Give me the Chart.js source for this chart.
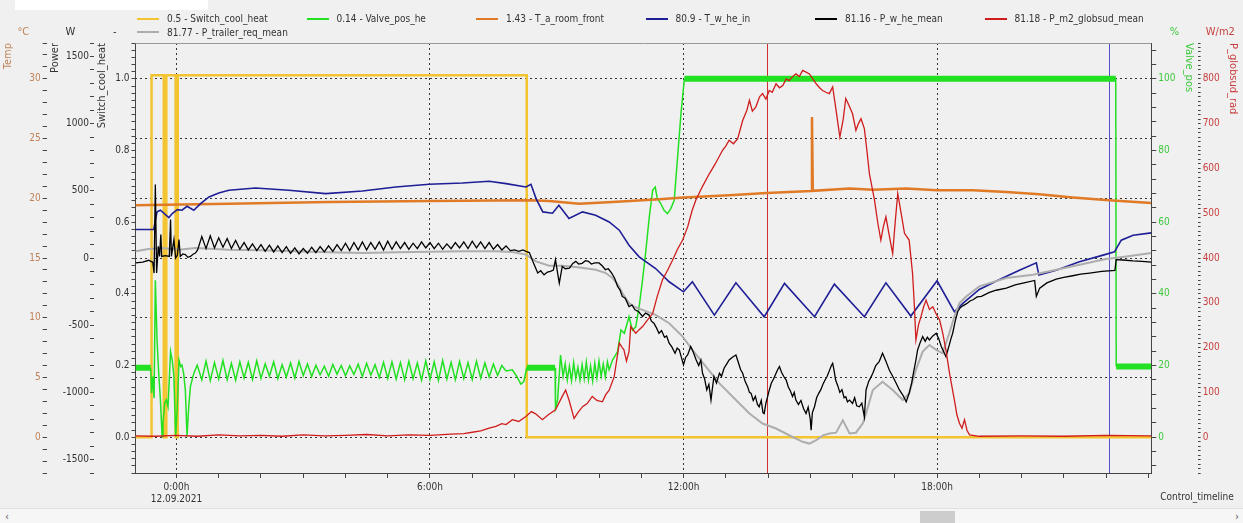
<!DOCTYPE html>
<html>
<head>
<meta charset="utf-8">
<script src="https://cdn.jsdelivr.net/npm/chart.js@4/dist/chart.umd.min.js"></script>
<style>
  body { margin: 0; background: #f0f0f0; font-family: 'Liberation Sans Narrow', 'DejaVu Sans Condensed', sans-serif; }
  #wrap { position: relative; width: 1243px; height: 523px; overflow: hidden; background: #f0f0f0; }
  #topbar { position: absolute; left: 15px; top: 0; width: 193px; height: 10px; background: #fff; }
  #legend { position: absolute; left: 137px; top: 12px; display: grid; grid-template-columns: repeat(6, 169.5px); font-size: 10px; color: #333; z-index: 2; }
  .item { display: flex; align-items: center; height: 13.5px; white-space: nowrap; }
  .swatch { width: 22px; height: 2px; margin-right: 8px; }
  #chartBox { position: absolute; left: 0; top: 0; }
  #scroll { position: absolute; left: 0; top: 508px; width: 1243px; height: 15px; background: #f6f6f6; border-top: 1px solid #e0e0e0; font-size: 11px; color: #555; }
  #thumb { position: absolute; left: 920px; top: 2px; width: 35px; height: 12px; background: #cdcdcd; }
</style>
</head>
<body>
<div id="wrap">
  <div id="topbar"></div>
  <div id="legend"></div>
  <div id="chartBox"><canvas id="trendChart" width="1243" height="508"></canvas></div>
  <div id="scroll"><span style="position:absolute;left:5px;top:1px">&lsaquo;</span><div id="thumb"></div><span style="position:absolute;left:1235px;top:1px">&rsaquo;</span></div>
</div>
<script>
// Legend labels of the recorded channels
var seriesLabels = ['0.5 - Switch_cool_heat', '0.14 - Valve_pos_he', '1.43 - T_a_room_front', '80.9 - T_w_he_in',
    '81.16 - P_w_he_mean', '81.18 - P_m2_globsud_mean', '81.77 - P_trailer_req_mean'];

// Time axis (hours from 12.09.2021 0:00)
var xTickHours = [0, 6, 12, 18];
var xTickText = [['0:00h', '12.09.2021'], '6:00h', '12:00h', '18:00h'];
var cursorHours = [13.97, 22.07];

// Each series: [hour, value]
var switchCoolHeat = [[-0.97, 0], [-0.59, 0], [-0.59, 1.01], [-0.30, 1.01], [-0.30, 0], [-0.24, 0], [-0.24, 1.01],
    [-0.02, 1.01], [-0.02, 0], [0.03, 0], [0.03, 1.01], [8.29, 1.01], [8.29, 0], [23.07, 0]];

var valvePos = [[-0.97, 19.4], [-0.61, 19.4], [-0.59, 12.3], [-0.56, 16.9], [-0.53, 10.9], [-0.50, 43.8], [-0.46, 27.1],
    [-0.42, 17.8], [-0.38, 10.4], [-0.34, 0.2], [-0.32, 3.9], [-0.28, 9.5], [-0.24, 10.4], [-0.20, 8.5], [-0.14, 23.9],
    [-0.10, 21.5], [-0.06, 16.9], [-0.02, 0.2], [0.02, 8.5], [0.06, 21.5], [0.10, 19.7], [0.13, 20.1], [0.17, 17.8],
    [0.21, 13.2], [0.25, 0.2], [0.29, 8.5], [0.33, 14.1], [0.41, 17.8], [0.49, 20.1],
    [0.6, 16.0], [0.7, 21.2], [0.8, 15.8], [0.9, 20.8], [1.0, 16.2], [1.1, 21.4], [1.2, 16.0], [1.3, 20.6], [1.4, 15.9],
    [1.5, 21.0], [1.6, 16.5], [1.7, 20.9], [1.8, 16.1], [1.9, 21.3], [2.0, 16.4], [2.1, 20.5], [2.2, 17.0], [2.3, 21.0],
    [2.4, 16.3], [2.5, 20.2], [2.6, 16.8], [2.7, 20.7], [2.8, 16.5], [2.9, 21.1], [3.0, 17.2], [3.1, 20.4], [3.2, 16.9],
    [3.3, 20.1], [3.4, 17.4], [3.5, 19.8], [3.6, 17.0], [3.7, 20.3], [3.8, 17.6], [3.9, 20.0], [4.0, 17.1], [4.1, 19.9],
    [4.2, 17.5], [4.3, 20.4], [4.4, 16.9], [4.5, 20.6], [4.6, 17.3], [4.7, 20.2], [4.8, 16.6], [4.9, 20.9], [5.0, 16.4],
    [5.1, 21.0], [5.2, 16.2], [5.3, 20.8], [5.4, 16.0], [5.5, 21.2], [5.6, 16.3], [5.7, 20.7], [5.8, 15.9], [5.9, 21.3],
    [6.0, 16.1], [6.1, 21.0], [6.2, 15.8], [6.3, 21.4], [6.4, 16.2], [6.5, 20.9], [6.6, 16.0], [6.7, 21.1], [6.8, 16.4],
    [6.9, 20.8], [7.0, 16.1], [7.1, 21.2], [7.2, 16.5], [7.3, 20.7], [7.4, 16.8], [7.5, 20.4], [7.6, 17.2], [7.7, 20.0],
    [7.8, 18.5], [7.95, 18.8], [8.05, 17.0], [8.15, 14.8], [8.22, 15.5], [8.29, 19.4], [8.96, 19.4], [8.97, 8.1],
    [9.02, 10.4], [9.09, 22.9], [9.15, 17.0], [9.2, 20.5], [9.25, 16.0], [9.3, 19.8], [9.35, 15.8], [9.4, 20.8],
    [9.45, 16.4], [9.5, 19.5], [9.55, 15.9], [9.6, 20.2], [9.65, 16.3], [9.7, 21.0], [9.75, 16.0], [9.8, 19.9],
    [9.85, 15.7], [9.9, 20.6], [9.95, 16.5], [10.0, 21.2], [10.05, 17.0], [10.1, 20.4], [10.15, 16.8], [10.2, 21.0],
    [10.24, 18.8], [10.32, 21.5], [10.44, 23.9], [10.52, 29.9], [10.6, 29.0], [10.71, 33.6], [10.79, 29.9], [10.87, 30.8],
    [10.95, 36.4], [11.03, 43.8], [11.11, 52.2], [11.19, 61.5], [11.27, 68.9], [11.33, 69.8], [11.38, 66.6], [11.46, 65.2],
    [11.54, 63.3], [11.62, 62.4], [11.7, 63.8], [11.78, 66.1], [11.86, 78.2], [11.94, 90.3], [12.02, 100], [22.23, 100],
    [22.24, 19.7], [23.07, 19.7]];

var roomTemp = [[-0.97, 19.42], [1.24, 19.55], [3.61, 19.69], [5.98, 19.78], [8.35, 19.83], [8.82, 19.78], [9.53, 19.55],
    [10.32, 19.69], [11.34, 19.89], [12.0, 20.06], [13.08, 20.25], [13.97, 20.45], [15.02, 20.61], [15.04, 26.8],
    [15.06, 20.62], [15.93, 20.81], [16.48, 20.72], [17.27, 20.81], [18.0, 20.67], [18.85, 20.67], [19.64, 20.53],
    [20.42, 20.33], [21.21, 20.06], [22.07, 19.83], [23.07, 19.6]];

var heInTemp = [[-0.97, 17.38], [-0.54, 17.38], [-0.46, 18.86], [-0.38, 19.0], [-0.18, 18.38], [-0.10, 18.72], [0.02, 19.05],
    [0.13, 19.0], [0.25, 19.33], [0.41, 19.0], [0.57, 19.55], [0.77, 20.11], [1.0, 20.45], [1.24, 20.67], [1.87, 20.86],
    [2.66, 20.67], [3.53, 20.39], [4.40, 20.61], [5.19, 20.95], [5.98, 21.17], [6.77, 21.28], [7.40, 21.42], [7.80, 21.23],
    [8.27, 20.95], [8.39, 21.17], [8.51, 19.97], [8.67, 18.86], [8.90, 18.75], [9.05, 19.42], [9.29, 18.30], [9.61, 18.86],
    [9.92, 18.58], [10.24, 18.02], [10.48, 17.33], [10.71, 16.07], [10.95, 15.10], [11.34, 14.12], [11.66, 13.01],
    [12.0, 12.17], [12.21, 13.01], [12.73, 10.22], [13.24, 12.92], [13.91, 10.08], [14.39, 12.87], [15.10, 10.08],
    [15.57, 12.81], [16.28, 10.08], [16.79, 12.92], [17.38, 10.14], [18.0, 13.09], [18.41, 10.50], [18.61, 11.20],
    [19.0, 12.37], [19.48, 13.20], [19.95, 13.98], [20.35, 14.60], [20.41, 13.57], [20.82, 13.98], [21.37, 14.68],
    [21.93, 15.24], [22.20, 15.52], [22.36, 16.49], [22.64, 16.91], [23.07, 17.1]];

var heMeanPower = [[-0.97, -37], [-0.8, -30], [-0.66, -17], [-0.56, -32], [-0.53, -112], [-0.50, 547], [-0.47, -112],
    [-0.43, 87], [-0.40, 12], [-0.37, 174], [-0.35, 12], [-0.26, 17], [-0.17, 12], [-0.14, 286], [-0.12, 12], [-0.06, 137],
    [-0.02, 0], [0.02, 20], [0.06, 137], [0.09, 12], [0.15, 30], [0.21, 25], [0.27, 5], [0.33, 12], [0.40, 30], [0.45, 37],
    [0.5, 60], [0.6, 160], [0.7, 70], [0.8, 165], [0.9, 75], [1.0, 150], [1.1, 80], [1.2, 145], [1.3, 70], [1.4, 130],
    [1.5, 65], [1.6, 115], [1.7, 60], [1.8, 105], [1.9, 55], [2.0, 100], [2.1, 50], [2.2, 95], [2.3, 45], [2.4, 90],
    [2.5, 40], [2.6, 85], [2.7, 35], [2.8, 75], [2.9, 30], [3.0, 70], [3.1, 35], [3.2, 80], [3.3, 40], [3.4, 85],
    [3.5, 45], [3.6, 90], [3.7, 50], [3.8, 100], [3.9, 55], [4.0, 110], [4.1, 55], [4.2, 115], [4.3, 60], [4.4, 120],
    [4.5, 60], [4.6, 115], [4.7, 65], [4.8, 120], [4.9, 60], [5.0, 125], [5.1, 65], [5.2, 120], [5.3, 70], [5.4, 115],
    [5.5, 65], [5.6, 110], [5.7, 70], [5.8, 120], [5.9, 75], [6.0, 115], [6.1, 70], [6.2, 110], [6.3, 65], [6.4, 105],
    [6.5, 70], [6.6, 115], [6.7, 75], [6.8, 120], [6.9, 70], [7.0, 125], [7.1, 75], [7.2, 120], [7.3, 70], [7.4, 115],
    [7.5, 65], [7.6, 100], [7.7, 60], [7.8, 90], [7.9, 55], [8.0, 60], [8.1, 50], [8.2, 60],
    [8.27, 50], [8.35, 40], [8.45, -37], [8.55, -112], [8.62, -95], [8.7, -125], [8.78, -105], [8.85, -100], [8.92, -90],
    [8.97, -12], [9.02, -112], [9.06, -187], [9.13, -62], [9.2, -80], [9.3, -75], [9.38, -40], [9.45, -25], [9.52, -45],
    [9.6, -40], [9.68, -20], [9.75, -25], [9.82, -45], [9.9, -37], [10.0, -37], [10.08, -60], [10.15, -87], [10.22, -80],
    [10.3, -112], [10.37, -150], [10.44, -211], [10.5, -240], [10.55, -286], [10.62, -300], [10.71, -361], [10.78, -350],
    [10.85, -386], [10.94, -400], [11.03, -435], [11.1, -410], [11.18, -423], [11.24, -470], [11.3, -485], [11.36, -520],
    [11.42, -560], [11.48, -540], [11.55, -590], [11.6, -580], [11.66, -634], [11.72, -660], [11.8, -709], [11.85, -670],
    [11.9, -684], [11.95, -740], [12.0, -796], [12.05, -740], [12.1, -720], [12.17, -659], [12.23, -700], [12.3, -759],
    [12.36, -800], [12.41, -760], [12.45, -858], [12.5, -900], [12.55, -982], [12.6, -940], [12.65, -1057], [12.68, -980],
    [12.72, -883], [12.78, -930], [12.85, -858], [12.9, -880], [12.96, -820], [13.02, -790], [13.08, -759], [13.15, -740],
    [13.24, -722], [13.3, -780], [13.35, -830], [13.4, -858], [13.46, -920], [13.52, -960], [13.56, -1000], [13.6, -1007],
    [13.65, -1060], [13.7, -1030], [13.75, -1090], [13.79, -1107], [13.84, -1060], [13.88, -1150], [13.91, -1157],
    [13.95, -1080], [14.0, -1020], [14.03, -982], [14.08, -930], [14.13, -900], [14.19, -858], [14.23, -830], [14.27, -808],
    [14.32, -850], [14.37, -880], [14.43, -908], [14.48, -960], [14.53, -990], [14.58, -1030], [14.62, -1000],
    [14.66, -1057], [14.72, -1090], [14.78, -1060], [14.84, -1120], [14.9, -1157], [14.95, -1110], [15.0, -1200],
    [15.02, -1281], [15.05, -1150], [15.1, -1107], [15.15, -1040], [15.2, -1007], [15.25, -980], [15.3, -940],
    [15.35, -908], [15.4, -880], [15.45, -840], [15.5, -800], [15.53, -784], [15.56, -830], [15.6, -908], [15.65, -950],
    [15.7, -1000], [15.75, -980], [15.8, -1040], [15.84, -1032], [15.88, -1070], [15.93, -1057], [16.0, -1082],
    [16.05, -1040], [16.1, -1100], [16.16, -1107], [16.22, -1080], [16.28, -1182], [16.32, -982], [16.38, -920],
    [16.43, -890], [16.48, -858], [16.55, -800], [16.63, -771], [16.67, -740], [16.71, -709], [16.78, -760], [16.87, -833],
    [16.95, -880], [17.03, -930], [17.11, -982], [17.19, -1020], [17.27, -1070], [17.34, -1007], [17.4, -930],
    [17.44, -858], [17.5, -760], [17.54, -684], [17.6, -630], [17.66, -585], [17.72, -620], [17.77, -590], [17.82, -610],
    [17.9, -580], [17.98, -560], [18.04, -600], [18.1, -659], [18.16, -700], [18.21, -734], [18.25, -690], [18.29, -647],
    [18.33, -600], [18.37, -560], [18.43, -470], [18.49, -398], [18.55, -370], [18.61, -356], [18.7, -340], [18.78, -320],
    [18.85, -311], [18.95, -290], [19.05, -285], [19.24, -256], [19.4, -240], [19.64, -224], [19.85, -200], [20.11, -182],
    [20.31, -167], [20.35, -286], [20.43, -224], [20.6, -185], [20.82, -157], [21.0, -145], [21.21, -132], [21.4, -120],
    [21.61, -112], [21.9, -100], [22.21, -92], [22.24, -12], [22.4, -15], [22.64, -22], [22.85, -25], [23.07, -30]];

var globRad = [[-0.97, 3], [-0.5, 2], [0, 4], [0.5, 2], [1, 5], [1.5, 3], [2, 4], [2.5, 2], [3, 5], [3.5, 3], [4, 4],
    [4.5, 6], [5, 3], [5.5, 5], [6, 4], [6.5, 7], [6.8, 8], [7.0, 11], [7.2, 14], [7.4, 20], [7.56, 24], [7.7, 30],
    [7.8, 28], [7.95, 39], [8.1, 35], [8.27, 46], [8.4, 57], [8.5, 52], [8.66, 39], [8.8, 50], [8.97, 61], [9.13, 91],
    [9.21, 105], [9.29, 83], [9.41, 42], [9.5, 55], [9.61, 68], [9.72, 75], [9.84, 91], [9.95, 82], [10.08, 79],
    [10.16, 95], [10.24, 105], [10.36, 135], [10.48, 210], [10.55, 200], [10.59, 195], [10.65, 170], [10.71, 191],
    [10.75, 247], [10.87, 232], [10.95, 240], [11.03, 247], [11.15, 262], [11.27, 276], [11.38, 315], [11.5, 351],
    [11.62, 372], [11.74, 395], [11.86, 420], [11.98, 440], [12.1, 470], [12.2, 505], [12.29, 529], [12.45, 560],
    [12.61, 588], [12.75, 610], [12.92, 640], [13.0, 650], [13.08, 663], [13.18, 655], [13.28, 666], [13.4, 707],
    [13.5, 730], [13.56, 752], [13.63, 728], [13.71, 737], [13.8, 760], [13.87, 767], [13.95, 755], [14.03, 774],
    [14.1, 770], [14.19, 789], [14.27, 780], [14.35, 785], [14.43, 800], [14.5, 796], [14.58, 805], [14.66, 811],
    [14.74, 805], [14.82, 819], [14.9, 815], [14.98, 811], [15.06, 800], [15.14, 789], [15.22, 780], [15.29, 774],
    [15.37, 770], [15.45, 767], [15.53, 782], [15.61, 730], [15.7, 670], [15.78, 710], [15.84, 756], [15.92, 740],
    [16.0, 722], [16.08, 685], [16.14, 700], [16.2, 711], [16.28, 689], [16.34, 640], [16.4, 588], [16.52, 529],
    [16.6, 477], [16.67, 440], [16.73, 470], [16.79, 492], [16.87, 450], [16.95, 410], [17.01, 480], [17.07, 544],
    [17.15, 500], [17.23, 455], [17.34, 440], [17.42, 366], [17.46, 300], [17.5, 217], [17.56, 250], [17.62, 269],
    [17.68, 290], [17.74, 306], [17.82, 285], [17.9, 291], [17.98, 275], [18.06, 262], [18.14, 230], [18.21, 195],
    [18.3, 140], [18.41, 83], [18.47, 50], [18.53, 31], [18.59, 20], [18.65, 39], [18.71, 15], [18.77, 5], [19, 2],
    [20, 3], [21, 2], [22, 4], [23.07, 3]];

var trailerReqPower = [[-0.97, 50], [-0.66, 67], [-0.34, 75], [0.06, 62], [0.45, 75], [1.24, 62], [2.0, 58], [2.82, 50],
    [3.6, 42], [4.4, 37], [5.2, 42], [5.98, 47], [6.8, 50], [7.56, 50], [7.95, 45], [8.27, 25], [8.51, -25], [8.82, -57],
    [9.13, -57], [9.5, -68], [9.92, -87], [10.15, -110], [10.32, -149], [10.45, -200], [10.55, -261], [10.71, -336],
    [10.85, -365], [11.03, -386], [11.34, -423], [11.66, -485], [11.98, -585], [12.21, -684], [12.53, -809], [12.85, -933],
    [13.24, -1057], [13.56, -1157], [13.87, -1232], [14.19, -1269], [14.5, -1319], [14.82, -1368], [14.98, -1381],
    [15.14, -1356], [15.3, -1320], [15.45, -1306], [15.61, -1300], [15.77, -1208], [15.93, -1306], [16.08, -1300],
    [16.24, -1232], [16.32, -1157], [16.48, -982], [16.71, -921], [16.95, -982], [17.19, -1057], [17.34, -1007],
    [17.5, -833], [17.66, -697], [17.82, -647], [17.98, -684], [18.13, -709], [18.29, -560], [18.41, -435], [18.53, -336],
    [18.69, -286], [19.0, -211], [19.64, -149], [20.27, -124], [21.21, -62], [22.0, -7], [22.48, 12], [23.07, 38]];

var FONT = "'Liberation Sans Narrow', 'DejaVu Sans Condensed', sans-serif";
Chart.defaults.font.family = FONT;
Chart.defaults.font.size = 10;
Chart.defaults.color = '#333';

function pts(arr) {
    return arr.map(function (p) { return { x: p[0], y: p[1] }; });
}

function isMultiple(v, step) {
    var q = v / step;
    return Math.abs(q - Math.round(q)) < 1e-6;
}

// y axis with minor ticks every `step` and labels every `major`
function yAxis(pos, min, max, step, major, color, title, digits, showBorder, titlePad, tickLen) {
    return {
        type: 'linear',
        position: pos,
        min: min,
        max: max,
        afterBuildTicks: function (sc) {
            var t = [];
            for (var k = Math.ceil(min / step - 1e-9); k * step <= max + 1e-9; k++) {
                t.push({ value: Math.round(k * step * 1000) / 1000 });
            }
            sc.ticks = t;
        },
        ticks: {
            autoSkip: false,
            color: color,
            padding: 2,
            callback: function (v) { return isMultiple(v, major) ? Number(v).toFixed(digits) : ''; }
        },
        grid: { drawOnChartArea: false, tickLength: tickLen || 4, tickColor: '#444' },
        border: { display: showBorder, color: '#444' },
        title: { display: true, text: title, color: color, align: 'end', font: { size: 11 }, padding: titlePad }
    };
}

var tempAxis = yAxis('left', -3, 33, 1, 5, '#c0835a', 'Temp', 0, false, { top: 2, bottom: 12 });
tempAxis.grid = {
    drawOnChartArea: true, tickLength: 4, tickColor: '#444',
    color: function (c) { return c.tick && isMultiple(c.tick.value, 5) ? '#333' : 'rgba(0,0,0,0)'; }
};
tempAxis.border = { display: false, dash: [2, 3] };

var powerAxis = yAxis('left', -1600, 1600, 100, 500, '#333', 'Power', 0, false, { top: 2, bottom: 0 });
powerAxis.ticks.padding = 1;

var datasets = [
    { label: seriesLabels[0], data: pts(switchCoolHeat), yAxisID: 'ySwitch', borderColor: '#f4c430', borderWidth: 2.5, order: 9 },
    { label: seriesLabels[1], data: pts(valvePos), yAxisID: 'yValve', borderColor: '#22e022', borderWidth: 1.5, order: 7,
      segment: { borderWidth: function (c) { return c.p0.parsed.y === c.p1.parsed.y ? 6 : 1.5; } } },
    { label: seriesLabels[2], data: pts(roomTemp), yAxisID: 'yTemp', borderColor: '#e07a26', borderWidth: 2.5, order: 6 },
    { label: seriesLabels[3], data: pts(heInTemp), yAxisID: 'yTemp', borderColor: '#1e1e96', borderWidth: 1.6, order: 5 },
    { label: seriesLabels[4], data: pts(heMeanPower), yAxisID: 'yPower', borderColor: '#000000', borderWidth: 1.3, order: 3 },
    { label: seriesLabels[5], data: pts(globRad), yAxisID: 'yGlob', borderColor: '#d01c1c', borderWidth: 1.3, order: 2 },
    { label: seriesLabels[6], data: pts(trailerReqPower), yAxisID: 'yPower', borderColor: '#adadad', borderWidth: 2, order: 4 }
];

// units above the axes, cursors, frame
var decor = {
    id: 'decor',
    beforeDatasetsDraw: function (chart) {
        var ctx = chart.ctx, a = chart.chartArea, xs = chart.scales.x;
        ctx.save();
        ctx.lineWidth = 1;
        ['#d03030', '#5050c8'].forEach(function (col, i) {
            var px = Math.round(xs.getPixelForValue(cursorHours[i])) + 0.5;
            ctx.strokeStyle = col;
            ctx.beginPath(); ctx.moveTo(px, a.top); ctx.lineTo(px, a.bottom); ctx.stroke();
        });
        ctx.restore();
    },
    afterDraw: function (chart) {
        var ctx = chart.ctx, a = chart.chartArea, s = chart.scales;
        ctx.save();
        ctx.strokeStyle = '#999';
        ctx.lineWidth = 1;
        ctx.beginPath(); ctx.moveTo(a.left, a.top + 0.5); ctx.lineTo(a.right, a.top + 0.5); ctx.stroke();
        ctx.font = '11px ' + FONT;
        ctx.textAlign = 'center';
        ctx.textBaseline = 'middle';
        [['yTemp', '°C', '#c0835a'], ['yPower', 'W', '#333'], ['ySwitch', '-', '#333'],
         ['yValve', '%', '#3cc83c'], ['yGlob', 'W/m2', '#c84040']].forEach(function (u) {
            var sc = s[u[0]];
            ctx.fillStyle = u[2];
            ctx.fillText(u[1], (sc.left + sc.right) / 2, a.top - 11);
        });
        ctx.fillStyle = '#333';
        ctx.font = '10px ' + FONT;
        ctx.fillText('Control_timeline', 1197, 497);
        ctx.restore();
    }
};

var chart = new Chart(document.getElementById('trendChart').getContext('2d'), {
    type: 'line',
    data: { datasets: datasets },
    options: {
        responsive: false,
        animation: false,
        devicePixelRatio: 1,
        layout: { padding: { top: 43, right: 0, left: 0, bottom: 0 } },
        elements: { point: { radius: 0 }, line: { tension: 0 } },
        plugins: { legend: { display: false }, tooltip: { enabled: false } },
        scales: {
            x: {
                type: 'linear',
                min: -0.97,
                max: 23.07,
                afterBuildTicks: function (sc) {
                    var t = [];
                    for (var h = Math.ceil(sc.min); h <= Math.floor(sc.max); h++) t.push({ value: h });
                    sc.ticks = t;
                },
                ticks: {
                    autoSkip: false,
                    maxRotation: 0,
                    padding: 3,
                    color: '#333',
                    callback: function (v) {
                        var i = xTickHours.indexOf(v);
                        return i >= 0 ? xTickText[i] : '';
                    }
                },
                grid: {
                    tickLength: 5,
                    tickColor: '#444',
                    color: function (c) {
                        return c.tick && xTickHours.indexOf(c.tick.value) >= 0 ? '#333' : 'rgba(0,0,0,0)';
                    }
                },
                border: { display: true, color: '#444', dash: [2, 3] }
            },
            ySwitch: yAxis('left', -0.1, 1.1, 0.02, 0.2, '#333', 'Switch_cool_heat', 1, true, { top: 2, bottom: 4 }),
            yPower: powerAxis,
            yTemp: tempAxis,
            yValve: yAxis('right', -10, 110, 4, 20, '#3cc83c', 'Valve_pos', 0, true, { top: 2, bottom: 5 }, 5),
            yGlob: yAxis('right', -80, 880, 10, 100, '#c84040', 'P_globsud_rad', 0, false, { top: 4, bottom: 4 }, 3)
        }
    },
    plugins: [decor]
});

// legend laid out in fixed columns like the original tool
var legendBox = document.getElementById('legend');
chart.data.datasets.forEach(function (ds) {
    var item = document.createElement('div');
    item.className = 'item';
    item.innerHTML = '<span class="swatch" style="background:' + ds.borderColor + '"></span>' + ds.label;
    legendBox.appendChild(item);
});
</script>
</body>
</html>
